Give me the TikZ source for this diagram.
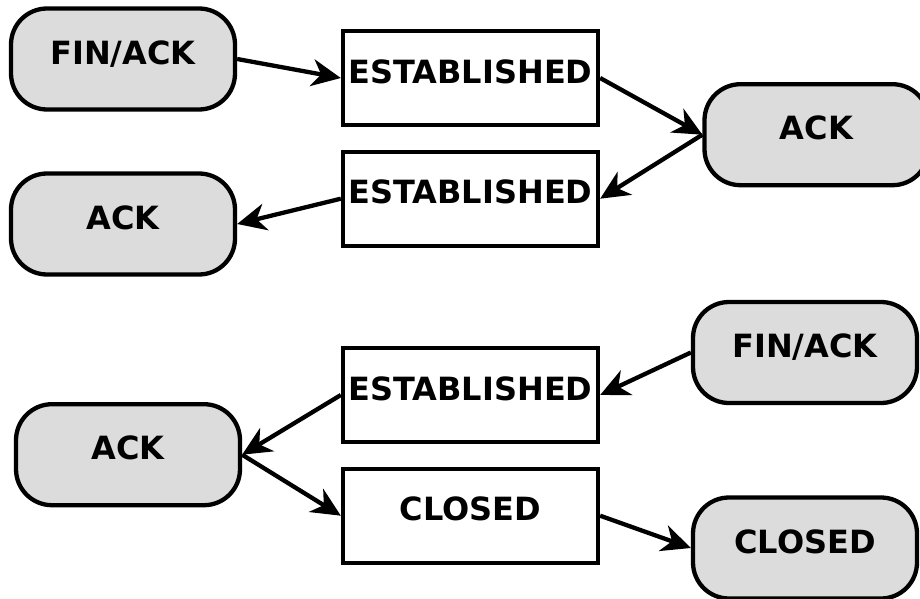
\documentclass[tikz,border=0pt]{standalone}
\usepackage{fontspec}
\setmainfont{DejaVu Sans}
\usetikzlibrary{arrows.meta}
\definecolor{stategray}{RGB}{220,220,220}
\tikzset{
  packet/.style={draw, line width=4.3pt, fill=stategray, rounded corners=36pt,
    minimum width=224pt, minimum height=101pt, inner sep=0pt,
    text height=20pt, text depth=9.7pt, font=\fontsize{32}{38}\selectfont\bfseries},
  tcpstate/.style={draw, line width=4.3pt, fill=white,
    minimum width=255pt, minimum height=94pt, inner sep=0pt,
    text height=20pt, text depth=9.7pt, font=\fontsize{32}{38}\selectfont\bfseries},
  msg/.style={line width=4.3pt, -{Stealth[length=29pt, width=27pt, inset=9pt]}}
}

\begin{document}
\begin{tikzpicture}[x=1pt, y=-1pt]
			% The page is the size of the reference, and everything outside it is cut off
			\useasboundingbox (0, 0) rectangle (920, 599);
			\clip (0, 0) rectangle (920, 599);

			% Upper exchange: the packets are the grey rounded boxes, the states are the white rectangles
			\node[packet] (finL) at (123, 59) {FIN/ACK};
			\node[tcpstate] (estA) at (470.5, 78) {ESTABLISHED};
			\node[packet] (ackR) at (816.5, 134.7) {ACK};
			\node[tcpstate] (estB) at (470.5, 198.7) {ESTABLISHED};
			\node[packet] (ackL) at (123, 224) {ACK};

			% Lower exchange
			\node[packet] (finR) at (805, 352.5) {FIN/ACK};
			\node[tcpstate] (estC) at (470.5, 395) {ESTABLISHED};
			\node[packet] (ackB) at (128, 454.7) {ACK};
			\node[tcpstate] (closedA) at (470.5, 515.7) {CLOSED};
			\node[packet] (closedR) at (805, 548) {CLOSED};

			% The arrows of the upper exchange
			\draw[msg] (finL.east) -- (estA.west);
			\draw[msg] (estA.east) -- (ackR.west);
			\draw[msg] (ackR.west) -- (estB.east);
			\draw[msg] (estB.west) -- (ackL.east);

			% The arrows of the lower exchange
			\draw[msg] (finR.west) -- (estC.east);
			\draw[msg] (estC.west) -- (ackB.east);
			\draw[msg] (ackB.east) -- (closedA.west);
			\draw[msg] (closedA.east) -- (closedR.west);
\end{tikzpicture}
\end{document}
